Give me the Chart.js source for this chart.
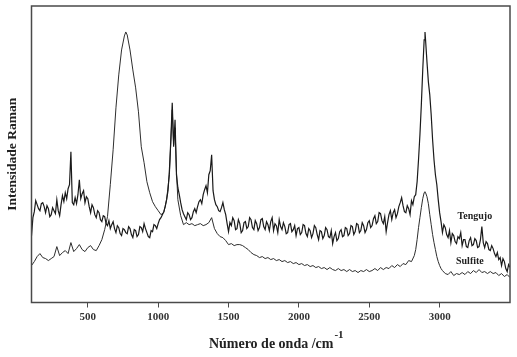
<!DOCTYPE html>
<html><head><meta charset="utf-8">
<script src="https://cdn.jsdelivr.net/npm/chart.js@4/dist/chart.umd.min.js"></script>
<style>html,body{margin:0;padding:0;background:#fff}canvas{display:block}</style>
</head><body>
<canvas id="c" width="517" height="357"></canvas>
<script>
// Tengujo spectrum: Raman shift (cm-1) and intensity (arbitrary units)
const tengujoX = [
100,110,120,130,140,150,160,170,180,190,
200,210,220,230,240,250,260,270,280,290,
300,310,320,330,340,350,360,370,380,390,
400,410,420,430,440,450,460,470,480,490,
500,510,520,530,540,550,560,570,580,590,
600,610,620,630,640,650,660,670,680,690,
700,710,720,730,740,750,760,770,780,790,
800,810,820,830,840,850,860,870,880,890,
900,910,920,930,940,950,960,970,980,990,
1000,1010,1020,1030,1040,1050,1060,1070,1080,1090,
1100,1110,1120,1130,1140,1150,1160,1170,1180,1190,
1200,1210,1220,1230,1240,1250,1260,1270,1280,1290,
1300,1310,1320,1330,1340,1350,1360,1370,1380,1390,
1400,1410,1420,1430,1440,1450,1460,1470,1480,1490,
1500,1510,1520,1530,1540,1550,1560,1570,1580,1590,
1600,1610,1620,1630,1640,1650,1660,1670,1680,1690,
1700,1710,1720,1730,1740,1750,1760,1770,1780,1790,
1800,1810,1820,1830,1840,1850,1860,1870,1880,1890,
1900,1910,1920,1930,1940,1950,1960,1970,1980,1990,
2000,2010,2020,2030,2040,2050,2060,2070,2080,2090,
2100,2110,2120,2130,2140,2150,2160,2170,2180,2190,
2200,2210,2220,2230,2240,2250,2260,2270,2280,2290,
2300,2310,2320,2330,2340,2350,2360,2370,2380,2390,
2400,2410,2420,2430,2440,2450,2460,2470,2480,2490,
2500,2510,2520,2530,2540,2550,2560,2570,2580,2590,
2600,2610,2620,2630,2640,2650,2660,2670,2680,2690,
2700,2710,2720,2730,2740,2750,2760,2770,2780,2790,
2800,2810,2820,2830,2840,2850,2860,2870,2880,2890,2896,
2900,2910,2920,2930,2940,2950,2960,2970,2980,2990,
3000,3010,3020,3030,3040,3050,3060,3070,3080,3090,
3100,3110,3120,3130,3140,3150,3160,3170,3180,3190,
3200,3210,3220,3230,3240,3250,3260,3270,3280,3290,
3300,3310,3320,3330,3340,3350,3360,3370,3380,3390,
3400,3410,3420,3430,3440,3450,3460,3470,3480,3490,
3500
];
const tengujoY = [
67,85,91,102,98,94,92,99,100,96,
90,97,94,86,88,95,92,89,103,92,
87,98,107,101,110,104,114,118,151,100,
98,105,99,108,123,104,109,112,100,106,
104,96,90,98,95,88,85,92,90,83,
81,87,86,79,77,82,74,78,81,74,
70,77,75,69,67,74,73,70,69,76,
74,68,65,73,72,66,68,76,75,71,
79,74,70,66,65,72,71,78,77,74,
79,83,85,88,91,96,103,112,133,163,
200,156,183,128,115,108,100,93,89,86,
83,90,88,83,85,91,94,90,96,101,
103,99,108,113,117,110,128,132,148,112,
103,98,96,92,91,95,100,93,88,79,
71,80,77,85,82,73,74,83,79,70,
72,80,81,74,76,85,83,75,73,82,
79,72,75,83,84,76,73,81,78,72,
81,85,72,79,77,70,83,76,73,80,
76,69,70,78,79,71,73,77,67,74,
75,68,70,78,77,69,66,74,72,65,
69,77,75,68,63,72,71,64,67,75,
73,66,65,72,59,66,70,62,64,71,
73,66,67,75,74,67,69,77,76,68,
71,79,78,70,72,80,77,70,73,80,
82,75,77,84,87,79,81,90,89,82,
79,86,71,80,88,92,83,90,93,85,
89,96,100,105,97,91,90,97,94,88,
102,98,106,108,121,143,168,198,233,263,271,
263,241,221,208,188,163,143,128,118,103,
90,81,70,78,75,68,65,72,60,69,
67,61,59,66,64,70,57,63,63,56,
55,62,65,57,58,64,62,55,56,63,
76,60,55,61,59,53,52,57,54,49,
46,50,43,45,37,44,41,34,31,38,
35
];
// Sulfite spectrum: Raman shift (cm-1) and intensity (arbitrary units)
const sulfiteX = [
100,120,140,160,180,200,220,240,260,280,300,320,340,360,380,400,420,440,460,480,500,520,540,560,580,600,620,640,660,680,700,720,740,
760,770,780,
800,820,840,860,880,900,920,940,960,980,1000,1020,1040,1060,1080,
1090,1100,1110,1120,1130,
1140,1160,1180,1200,1220,1240,1260,1280,1300,1320,1340,1360,1380,1400,1420,1440,1460,1480,1500,1520,1540,1560,1580,1600,1620,1640,1660,1680,1700,1720,1740,1760,1780,1800,1820,1840,1860,1880,1900,1920,1940,1960,1980,2000,2020,2040,2060,2080,2100,2120,2140,2160,2180,2200,2220,2240,2260,2280,2300,2320,2340,2360,2380,2400,2420,2440,2460,2480,2500,2520,2540,2560,2580,2600,2620,2640,2660,2680,2700,2720,2740,2760,2780,2800,2820,
2830,2840,2850,2860,2870,2880,2890,2896,2900,2910,2920,2930,2940,2950,2960,2970,2980,2990,3000,3010,
3020,3040,3060,3080,3100,3120,3140,3160,3180,3200,3220,3240,3260,3280,3300,3320,3340,3360,3380,3400,3420,3440,3460,3480,3500
];
const sulfiteY = [
37,41,46,49,45,44,42,44,46,56,47,50,52,49,60,51,54,58,53,51,55,57,53,52,57,63,73,86,118,153,195,228,253,
267,271,268,
253,233,215,191,156,140,121,110,101,96,92,88,90,103,128,
161,193,158,175,131,
103,87,78,80,78,79,77,78,79,77,78,80,85,74,69,66,65,62,58,59,57,58,58,57,55,53,50,48,47,45,46,44,45,43,44,42,43,41,42,40,41,39,40,38,39,37,38,36,37,35,36,34,35,33,35,33,32,34,32,33,31,33,31,32,30,32,31,33,31,32,34,32,35,33,35,34,37,35,38,36,39,38,42,41,47,
53,63,75,85,95,104,110,111,110,106,99,88,78,68,60,53,46,41,37,34,
32,29,28,31,27,29,28,30,28,31,29,32,30,33,30,31,29,31,29,30,27,29,26,28,25
];
const xTickValues = [500,1000,1500,2000,2500,3000];
const seriesNames = ['Tengujo','Sulfite'];
const labelAnchors = [[3250,86],[3215,41]];

if (tengujoY.length !== tengujoX.length || sulfiteY.length !== sulfiteX.length) {
  throw new Error('length mismatch ' + tengujoX.length + ' ' + tengujoY.length + ' ' + sulfiteX.length + ' ' + sulfiteY.length);
}

const SERIF = "'Liberation Serif','Times New Roman',serif";
const toPts = (xs, ys) => ys.map((v,i)=>({x:xs[i], y:v}));

const framePlugin = {
  id:'frame',
  afterDraw(chart){
    const {ctx, chartArea:a, scales} = chart;
    ctx.save();
    ctx.strokeStyle = '#4a4a4a';
    ctx.lineWidth = 1.5;
    ctx.strokeRect(a.left, a.top, a.right-a.left, a.bottom-a.top);
    ctx.fillStyle = '#222';
    ctx.font = "bold 10px " + SERIF;
    ctx.textAlign = 'center';
    ctx.textBaseline = 'middle';
    seriesNames.forEach((n,i)=>{
      ctx.fillText(n, scales.x.getPixelForValue(labelAnchors[i][0]), scales.y.getPixelForValue(labelAnchors[i][1]));
    });
    const main = 'Número de onda /cm', sup = '-1';
    ctx.font = "bold 14px " + SERIF;
    const w1 = ctx.measureText(main).width;
    ctx.font = "bold 11px " + SERIF;
    const w2 = ctx.measureText(sup).width;
    const cx = (a.left + a.right)/2 + 5;
    const x0 = cx - (w1 + w2)/2;
    ctx.textAlign = 'left';
    ctx.font = "bold 14px " + SERIF;
    ctx.fillText(main, x0, 344);
    ctx.font = "bold 11px " + SERIF;
    ctx.fillText(sup, x0 + w1 + 1, 335);
    ctx.restore();
  }
};

new Chart(document.getElementById('c'), {
  type:'line',
  data:{
    datasets:[
      {label:'Tengujo', data:toPts(tengujoX, tengujoY), borderColor:'#1a1a1a', borderWidth:1.2, pointRadius:0, tension:0, fill:false},
      {label:'Sulfite', data:toPts(sulfiteX, sulfiteY), borderColor:'#2e2e2e', borderWidth:1, pointRadius:0, tension:0, fill:false}
    ]
  },
  options:{
    responsive:false,
    devicePixelRatio:1,
    animation:false,
    layout:{padding:{left:0.5, top:6, right:7, bottom:0}},
    plugins:{legend:{display:false}, tooltip:{enabled:false}},
    scales:{
      x:{
        type:'linear', min:100, max:3500,
        afterBuildTicks:s=>{ s.ticks = xTickValues.map(v=>({value:v})); },
        afterFit:s=>{ s.height = 54.5; },
        ticks:{color:'#333', font:{family:SERIF, size:11, weight:'bold'}, padding:3, maxRotation:0, autoSkip:false, callback:v=>String(v)},
        grid:{display:true, drawOnChartArea:false, drawTicks:true, tickLength:5, color:'#4a4a4a', lineWidth:1},
        border:{display:false}
      },
      y:{
        min:0, max:297,
        afterFit:s=>{ s.width = 31; },
        ticks:{display:false},
        grid:{display:false},
        border:{display:false},
        title:{display:true, text:'Intensidade Raman', color:'#222', font:{family:SERIF, size:13.5, weight:'bold'}, padding:{top:4,bottom:0}}
      }
    }
  },
  plugins:[framePlugin]
});
</script>
</body></html>
